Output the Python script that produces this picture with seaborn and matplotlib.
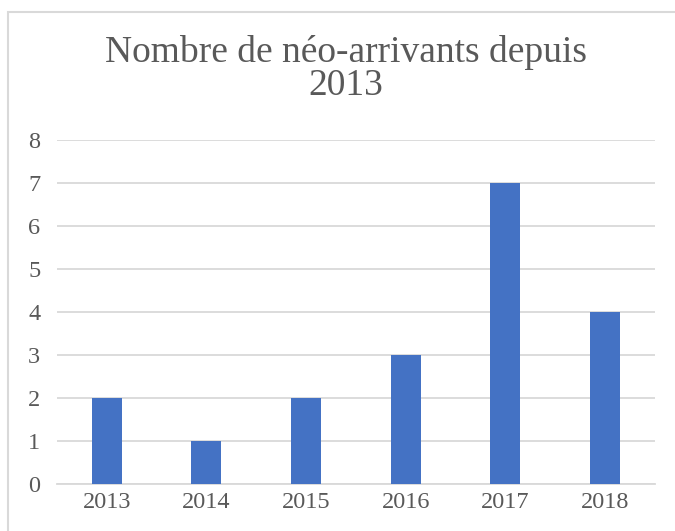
import matplotlib
matplotlib.use("Agg")
import matplotlib.pyplot as plt
import seaborn as sns
import pandas as pd

annees = ["2013", "2014", "2015", "2016", "2017", "2018"]
arrivants = [2, 1, 2, 3, 7, 4]

df = pd.DataFrame({"annee": annees, "nombre": arrivants})

sns.set_theme(style="white")
plt.rcParams["font.family"] = ["Liberation Serif", "DejaVu Serif"]

fig = plt.figure(figsize=(6.75, 5.31), dpi=100)
ax = fig.add_axes([0.0844, 0.0885, 0.8856, 0.6478])

sns.barplot(data=df, x="annee", y="nombre", color="#4472C4", width=0.30,
            saturation=1, linewidth=0, ax=ax, zorder=3)

ax.set_ylim(0, 8)
ax.set_yticks(range(0, 9))
ax.yaxis.grid(True, color="#D9D9D9", linewidth=1.3, zorder=0)
ax.set_axisbelow(True)
for s in ["top", "right", "left"]:
    ax.spines[s].set_visible(False)
ax.spines["bottom"].set_color("#D9D9D9")
ax.spines["bottom"].set_linewidth(1.3)
ax.set_xlabel("")
ax.set_ylabel("")
ax.tick_params(axis="both", labelsize=17.5, labelcolor="#595959", length=0)
ax.tick_params(axis="y", pad=12)
ax.tick_params(axis="x", pad=6)

fig.text(0.513, 0.870, "Nombre de néo-arrivants depuis\n2013", ha="center", va="center",
         fontsize=27, color="#595959", linespacing=0.95)

# cadre du graphique
fig.patches.append(plt.Rectangle((8 / 675, -0.01), 1.1, 1 - 12 / 531 + 0.01,
                                 transform=fig.transFigure, fill=False,
                                 edgecolor="#D9D9D9", linewidth=1.5))

fig.savefig("out.png", dpi=100)
